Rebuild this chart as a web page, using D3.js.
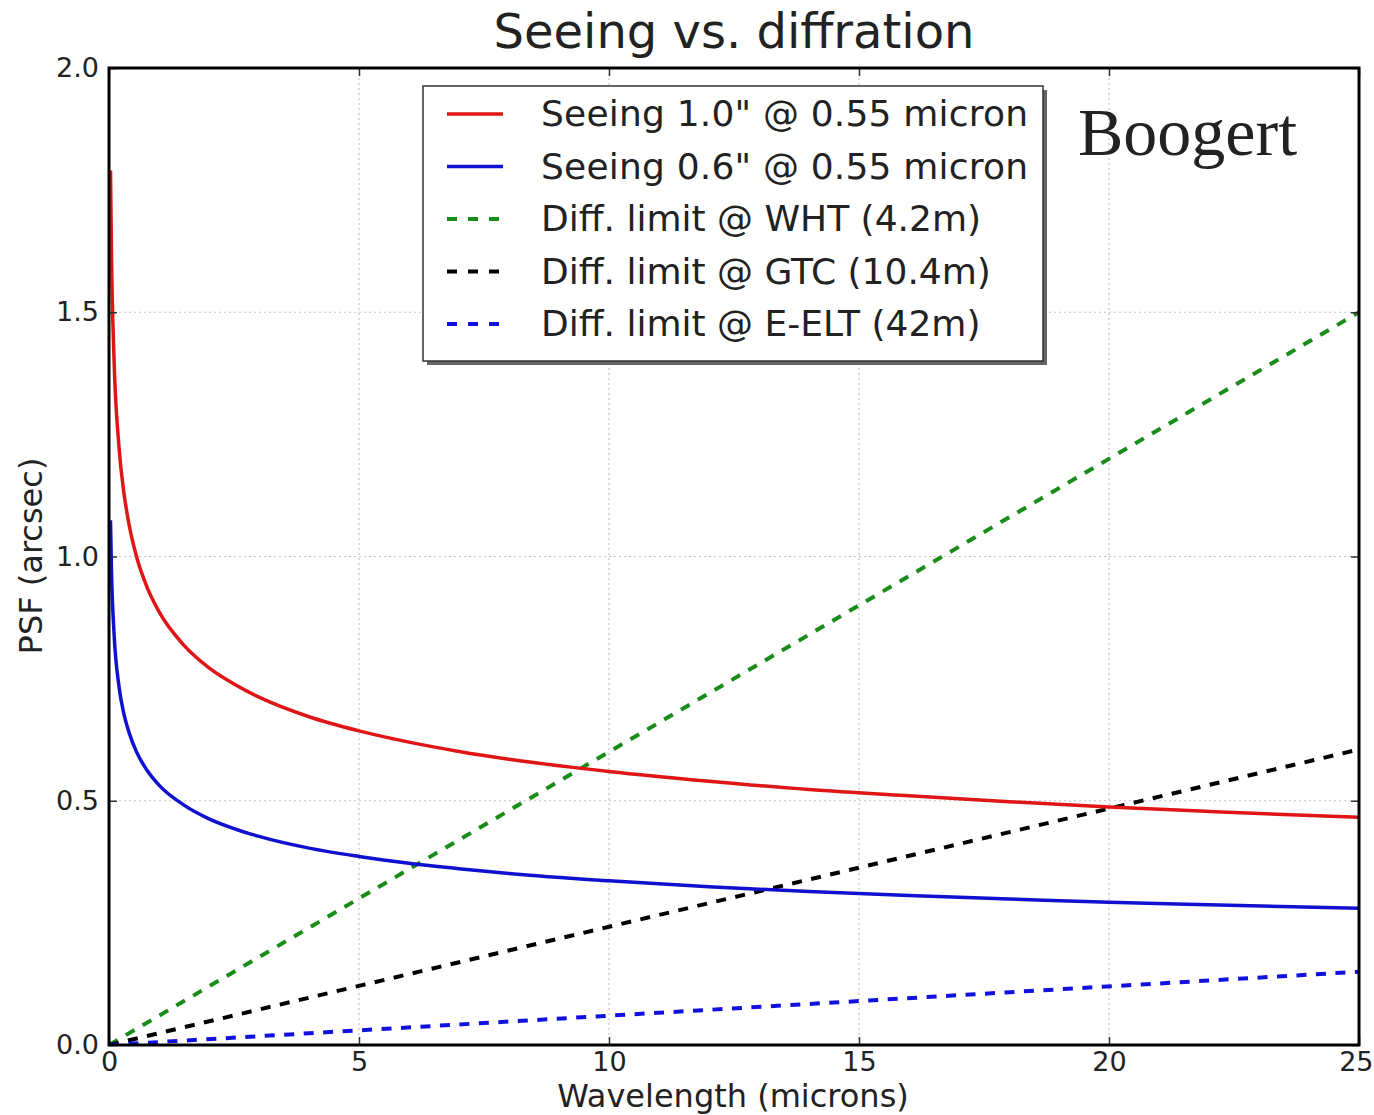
<!DOCTYPE html>
<html>
<head>
<meta charset="utf-8">
<script src="https://cdn.jsdelivr.net/npm/d3@7"></script>
<style>
  html, body { margin: 0; padding: 0; background: #fff; }
  svg { display: block; }
  text { font-family: "DejaVu Sans", sans-serif; fill: #222; }
</style>
</head>
<body>
<svg id="chart" width="1374" height="1115"></svg>
<script>
// Wavelength samples (microns) for the seeing curves
const wavelengths = [0.03, 0.05, 0.1, 0.2, 0.3, 0.4, 0.55, 0.75, 1, 1.5, 2, 2.5, 3, 4, 5, 6, 7, 8, 10, 12, 14, 16, 18, 20, 22, 25];
// Seeing FWHM (arcsec) for 1.0" at 0.55 micron
const seeing10 = [1.79, 1.615, 1.406, 1.224, 1.129, 1.066, 1.0, 0.940, 0.887, 0.818, 0.772, 0.739, 0.712, 0.672, 0.643, 0.620, 0.601, 0.585, 0.560, 0.540, 0.523, 0.510, 0.498, 0.487, 0.478, 0.466];
// Seeing FWHM (arcsec) for 0.6" at 0.55 micron
const seeing06 = [1.074, 0.969, 0.844, 0.734, 0.677, 0.640, 0.600, 0.564, 0.532, 0.491, 0.463, 0.443, 0.427, 0.403, 0.386, 0.372, 0.361, 0.351, 0.336, 0.324, 0.314, 0.306, 0.299, 0.292, 0.287, 0.280];
// Diffraction limits: straight lines from the origin to their value at 25 micron
const diffLambda = [0, 25];
const diffWHT = [0, 1.50];
const diffGTC = [0, 0.605];
const diffELT = [0, 0.150];

const xTicks = [0, 5, 10, 15, 20, 25];
const yTicks = [0.0, 0.5, 1.0, 1.5, 2.0];

const seriesNames = [
  'Seeing 1.0" @ 0.55 micron',
  'Seeing 0.6" @ 0.55 micron',
  'Diff. limit @ WHT (4.2m)',
  'Diff. limit @ GTC (10.4m)',
  'Diff. limit @ E-ELT (42m)'
];

const svg = d3.select("#chart");
const margin = { left: 109, right: 1359, top: 68, bottom: 1045 };

const x = d3.scaleLinear().domain([0, 25]).range([margin.left, margin.right]);
const y = d3.scaleLinear().domain([0, 2]).range([margin.bottom, margin.top]);

// clip region for the data
svg.append("defs").append("clipPath").attr("id", "plotclip")
  .append("rect")
  .attr("x", margin.left).attr("y", margin.top)
  .attr("width", margin.right - margin.left)
  .attr("height", margin.bottom - margin.top);

// dotted grid
const grid = svg.append("g").attr("class", "grid");
grid.selectAll("line.gx").data(xTicks.slice(1, -1)).join("line")
  .attr("x1", d => x(d)).attr("x2", d => x(d))
  .attr("y1", margin.top).attr("y2", margin.bottom)
  .attr("stroke", "#c4c4c4").attr("stroke-width", 1.2).attr("stroke-dasharray", "2,3");
grid.selectAll("line.gy").data(yTicks.slice(1, -1)).join("line")
  .attr("y1", d => y(d)).attr("y2", d => y(d))
  .attr("x1", margin.left).attr("x2", margin.right)
  .attr("stroke", "#c4c4c4").attr("stroke-width", 1.2).attr("stroke-dasharray", "2,3");

// series
const plot = svg.append("g").attr("clip-path", "url(#plotclip)");
const line = d3.line().x(d => x(d[0])).y(d => y(d[1])).curve(d3.curveMonotoneX);

const series = [
  { lam: diffLambda, val: diffWHT, color: "#1a8c1a", dash: "10,9.5", w: 4 },
  { lam: diffLambda, val: diffGTC, color: "#000000", dash: "10,9.5", w: 4 },
  { lam: diffLambda, val: diffELT, color: "#1010e0", dash: "10,9.5", w: 4 },
  { lam: wavelengths, val: seeing10, color: "#e01515", dash: null, w: 3.5 },
  { lam: wavelengths, val: seeing06, color: "#1010d0", dash: null, w: 3.5 }
];
series.forEach(s => {
  plot.append("path")
    .datum(s.lam.map((l, i) => [l, s.val[i]]))
    .attr("d", line)
    .attr("fill", "none")
    .attr("stroke", s.color)
    .attr("stroke-width", s.w)
    .attr("stroke-dasharray", s.dash);
});

// axes with inward ticks on all four sides
const tickLen = 8;
const axB = d3.axisBottom(x).tickValues(xTicks).tickSizeInner(-tickLen).tickSizeOuter(0).tickPadding(6).tickFormat(d3.format("d"));
const axT = d3.axisTop(x).tickValues(xTicks).tickSizeInner(-tickLen).tickSizeOuter(0).tickFormat("");
const axL = d3.axisLeft(y).tickValues(yTicks).tickSizeInner(-tickLen).tickSizeOuter(0).tickPadding(10).tickFormat(d3.format(".1f"));
const axR = d3.axisRight(y).tickValues(yTicks).tickSizeInner(-tickLen).tickSizeOuter(0).tickFormat("");

function styleAxis(g) {
  g.select(".domain").remove();
  g.selectAll(".tick line").attr("stroke", "#333").attr("stroke-width", 1.5);
  g.selectAll(".tick text").attr("font-size", 27).attr("fill", "#222")
    .attr("font-family", "DejaVu Sans, sans-serif");
}
const gB = svg.append("g").attr("transform", `translate(0,${margin.bottom})`).call(axB).call(styleAxis);
// keep the last x label inside the page
gB.selectAll(".tick text").filter(d => d === 25).attr("text-anchor", "end").attr("dx", 14);
gB.selectAll(".tick text").attr("dy", "0.74em");
svg.append("g").attr("transform", `translate(0,${margin.top})`).call(axT).call(styleAxis);
svg.append("g").attr("transform", `translate(${margin.left},0)`).call(axL).call(styleAxis);
svg.append("g").attr("transform", `translate(${margin.right},0)`).call(axR).call(styleAxis);

// frame
svg.append("rect")
  .attr("x", margin.left).attr("y", margin.top)
  .attr("width", margin.right - margin.left)
  .attr("height", margin.bottom - margin.top)
  .attr("fill", "none").attr("stroke", "#000").attr("stroke-width", 3);

// titles
svg.append("text").attr("x", 734).attr("y", 48).attr("text-anchor", "middle")
  .attr("font-size", 48).text("Seeing vs. diffration");
svg.append("text").attr("x", 733).attr("y", 1107).attr("text-anchor", "middle")
  .attr("font-size", 32).text("Wavelength (microns)");
svg.append("text")
  .attr("transform", "translate(42,556) rotate(-90)")
  .attr("text-anchor", "middle").attr("font-size", 32).text("PSF (arcsec)");

// legend with shadow
const lg = svg.append("g");
const lx = 423, ly = 86, lw = 620, lh = 275;
lg.append("rect").attr("x", lx + 4).attr("y", ly + 4).attr("width", lw).attr("height", lh)
  .attr("fill", "#666");
lg.append("rect").attr("x", lx).attr("y", ly).attr("width", lw).attr("height", lh)
  .attr("fill", "#fff").attr("stroke", "#333").attr("stroke-width", 1.5);
const legendStyles = [series[3], series[4], series[0], series[1], series[2]];
seriesNames.forEach((name, i) => {
  const yy = 114 + i * 52.5;
  const s = legendStyles[i];
  lg.append("line").attr("x1", 447).attr("x2", 503).attr("y1", yy).attr("y2", yy)
    .attr("stroke", s.color).attr("stroke-width", s.w)
    .attr("stroke-dasharray", s.dash ? "10,11" : null);
  lg.append("text").attr("x", 541).attr("y", yy + 12).attr("font-size", 36)
    .attr("textLength", i < 2 ? 487 : null).text(name);
});

// author note
svg.append("text").attr("x", 1078).attr("y", 155)
  .style("font-family", "'Liberation Serif', 'Times New Roman', serif")
  .attr("font-size", 68).attr("fill", "#000").text("Boogert");
</script>
</body>
</html>
